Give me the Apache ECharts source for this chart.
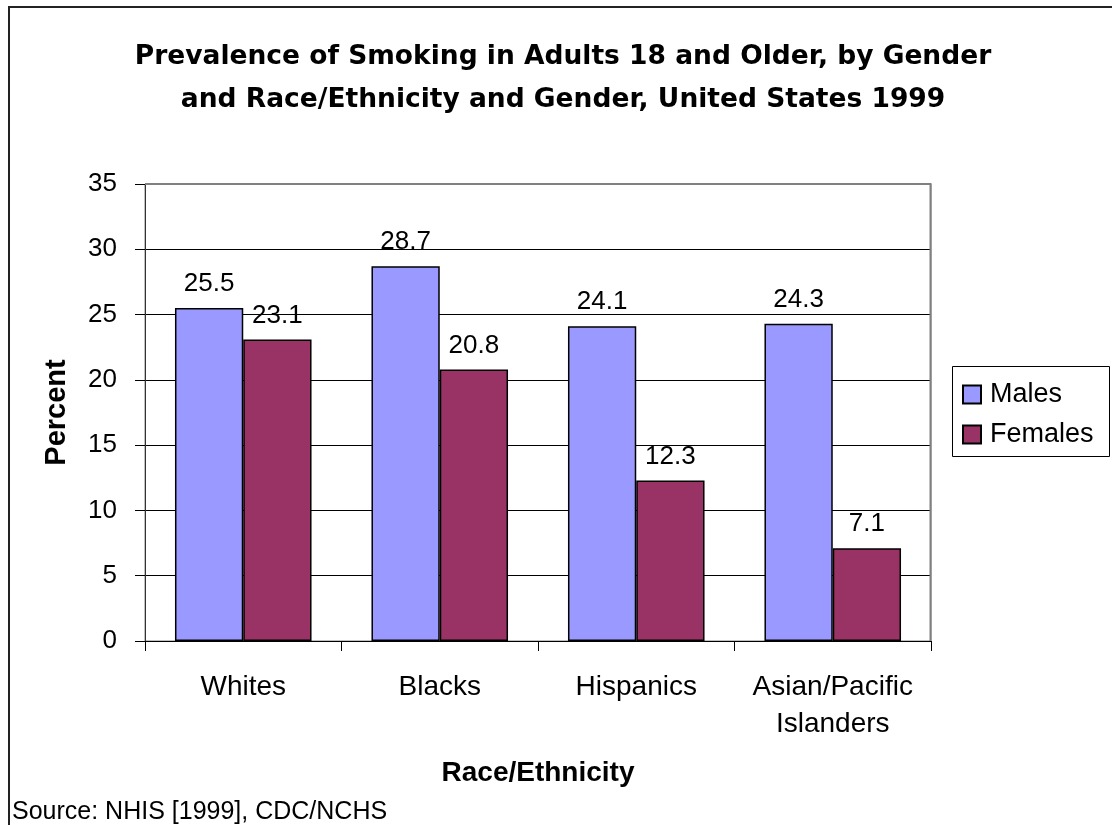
<!DOCTYPE html>
<html>
<head>
<meta charset="utf-8">
<script src="https://cdn.jsdelivr.net/npm/echarts@6/dist/echarts.min.js"></script>
<style>
  html, body { margin: 0; padding: 0; background: #fff; }
  #chart { width: 1112px; height: 825px; }
</style>
</head>
<body>
<div id="chart"></div>
<script>
// Smoking prevalence (%) among U.S. adults 18+, NHIS 1999
const categories = ['Whites', 'Blacks', 'Hispanics', 'Asian/Pacific\nIslanders'];
const males = [25.5, 28.7, 24.1, 24.3];
const females = [23.1, 20.8, 12.3, 7.1];
const seriesNames = ['Males', 'Females'];
const yTicks = { min: 0, max: 35, interval: 5 };

const FONT = '"Liberation Sans", Arial, sans-serif';
const TITLE_FONT = '"DejaVu Sans", "Liberation Sans", Arial, sans-serif';
const chart = echarts.init(document.getElementById('chart'), null, { renderer: 'canvas' });

const labelStyle = {
  show: true,
  position: 'top',
  distance: 11,
  color: '#000',
  fontFamily: FONT,
  fontSize: 26
};

chart.setOption({
  backgroundColor: '#fff',
  animation: false,
  textStyle: { fontFamily: FONT },
  graphic: [
    // outer chart frame
    { type: 'rect', shape: { x: 9, y: 7, width: 1300, height: 1000 },
      style: { fill: 'none', stroke: '#222', lineWidth: 2 }, z: 0 },
    // title
    { type: 'text', x: 563, y: 36,
      style: { text: 'Prevalence of Smoking in Adults 18 and Older, by Gender\nand Race/Ethnicity and Gender, United States 1999',
        align: 'center', verticalAlign: 'top', fontFamily: TITLE_FONT, fontWeight: 'bold', fontSize: 26.5,
        lineHeight: 43, fill: '#000' } },
    // grey top/right edge of the plot area
    { type: 'polyline', shape: { points: [[145, 184], [930.5, 184], [930.5, 641]] },
      style: { stroke: '#808080', lineWidth: 2, fill: 'none' }, z: 10 },
    // legend frame
    { type: 'rect', shape: { x: 952.5, y: 366.5, width: 157, height: 90 },
      style: { fill: '#fff', stroke: '#000', lineWidth: 1 }, z: 1 },
    // source note
    { type: 'text', x: 12, y: 812,
      style: { text: 'Source: NHIS [1999], CDC/NCHS', align: 'left', verticalAlign: 'middle',
        fontFamily: FONT, fontSize: 25, fill: '#000' } }
  ],
  legend: {
    data: seriesNames,
    orient: 'vertical',
    left: 957,
    top: 376,
    itemWidth: 18,
    itemHeight: 18,
    itemGap: 13,
    icon: 'rect',
    z: 5,
    textStyle: { fontFamily: FONT, fontSize: 27, color: '#000', padding: [0, 0, 0, 4] }
  },
  grid: {
    left: 145, right: 181, top: 184, bottom: 184,
    show: true, borderColor: '#808080', borderWidth: 1, backgroundColor: '#fff'
  },
  xAxis: {
    type: 'category',
    data: categories,
    name: 'Race/Ethnicity',
    nameLocation: 'middle',
    nameGap: 118,
    nameTextStyle: { fontFamily: FONT, fontWeight: 'bold', fontSize: 28, color: '#000', verticalAlign: 'top' },
    axisLine: { lineStyle: { color: '#000', width: 1 } },
    axisTick: { show: true, length: 10, inside: false, lineStyle: { color: '#000' } },
    axisLabel: { margin: 28, fontFamily: FONT, fontSize: 28, color: '#000', lineHeight: 37, interval: 0 }
  },
  yAxis: {
    type: 'value',
    min: yTicks.min,
    max: yTicks.max,
    interval: yTicks.interval,
    name: 'Percent',
    nameLocation: 'middle',
    nameGap: 74,
    nameTextStyle: { fontFamily: FONT, fontWeight: 'bold', fontSize: 29, color: '#000' },
    axisLine: { show: true, lineStyle: { color: '#333', width: 1 } },
    axisTick: { show: true, length: 10, inside: false, lineStyle: { color: '#000' } },
    axisLabel: { margin: 28, fontFamily: FONT, fontSize: 26, color: '#000' },
    splitLine: { show: true, lineStyle: { color: '#000', width: 1 } }
  },
  series: [
    {
      name: seriesNames[0],
      type: 'bar',
      data: males,
      barGap: '0%',
      barCategoryGap: '30.5%',
      itemStyle: { color: '#9999FF', borderColor: '#000', borderWidth: 1.5 },
      label: labelStyle
    },
    {
      name: seriesNames[1],
      type: 'bar',
      data: females,
      barGap: '0%',
      barCategoryGap: '30.5%',
      itemStyle: { color: '#993366', borderColor: '#000', borderWidth: 1.5 },
      label: labelStyle
    }
  ]
});
</script>
</body>
</html>
